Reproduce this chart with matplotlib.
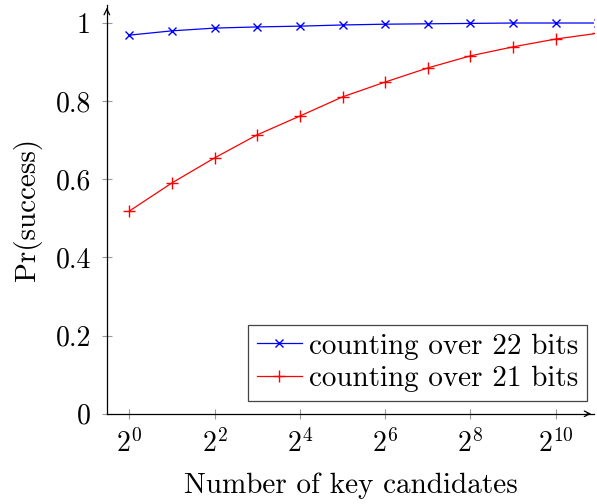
import numpy as np
import matplotlib
matplotlib.use("Agg")
import matplotlib.pyplot as plt

plt.rcParams['font.family'] = ['cmr10', 'DejaVu Serif']
plt.rcParams['mathtext.fontset'] = 'cm'
plt.rcParams['axes.unicode_minus'] = False
plt.rcParams['axes.formatter.use_mathtext'] = True

# log2 of number of key candidates
log_candidates = [0, 1, 2, 3, 4, 5, 6, 7, 8, 9, 10, 11]
p_22bits = [0.969, 0.980, 0.987, 0.990, 0.992, 0.995, 0.997, 0.998, 0.999, 1.0, 1.0, 1.0]
p_21bits = [0.519, 0.591, 0.655, 0.714, 0.762, 0.811, 0.849, 0.885, 0.916, 0.939, 0.959, 0.974]

xtick_pos = [0, 2, 4, 6, 8, 10]
xtick_labels = [r'$2^{%d}$' % k for k in xtick_pos]
ytick_pos = [0, 0.2, 0.4, 0.6, 0.8, 1]
ytick_labels = ['0', '0.2', '0.4', '0.6', '0.8', '1']

FS = 21

fig = plt.figure(figsize=(5.97, 5.04), dpi=100)
ax = fig.add_axes([0.179, 0.179, 0.816, 0.811])

ax.plot(log_candidates, p_22bits, color='blue', marker='x', lw=0.9, ms=6, mew=1.0,
        label='counting over 22 bits')
ax.plot(log_candidates, p_21bits, color='red', marker='+', lw=0.9, ms=9, mew=1.0,
        label='counting over 21 bits')

ax.set_xlim(-0.53, 10.9)
ax.set_ylim(0, 1.046)

ax.set_xticks(xtick_pos)
ax.set_xticklabels(xtick_labels)
ax.set_yticks(ytick_pos)
ax.set_yticklabels(ytick_labels)
ax.tick_params(direction='inout', length=7, width=0.8, color='#999999', labelsize=20, pad=8)

ax.spines['top'].set_visible(False)
ax.spines['right'].set_visible(False)
for s in ['left', 'bottom']:
    ax.spines[s].set_linewidth(0.9)

# arrow heads on the axes, pgfplots style
ax.annotate('', xy=(1.0, 0), xytext=(0.98, 0), xycoords='axes fraction',
            arrowprops=dict(arrowstyle='->', lw=0.9, color='black'))
ax.annotate('', xy=(0, 1.0), xytext=(0, 0.98), xycoords='axes fraction',
            arrowprops=dict(arrowstyle='->', lw=0.9, color='black'))

ax.set_xlabel('Number of key candidates', fontsize=FS, labelpad=10)
ax.set_ylabel('Pr(success)', fontsize=FS, labelpad=10)

leg = ax.legend(loc='lower right', fontsize=FS, frameon=True, fancybox=False,
                edgecolor='#444444', framealpha=1, handlelength=1.55,
                borderpad=0.3, labelspacing=0.2, handletextpad=0.25,
                borderaxespad=0, bbox_to_anchor=(0.986, 0.032))
leg.get_frame().set_linewidth(0.9)

fig.savefig('out.png', dpi=100)
